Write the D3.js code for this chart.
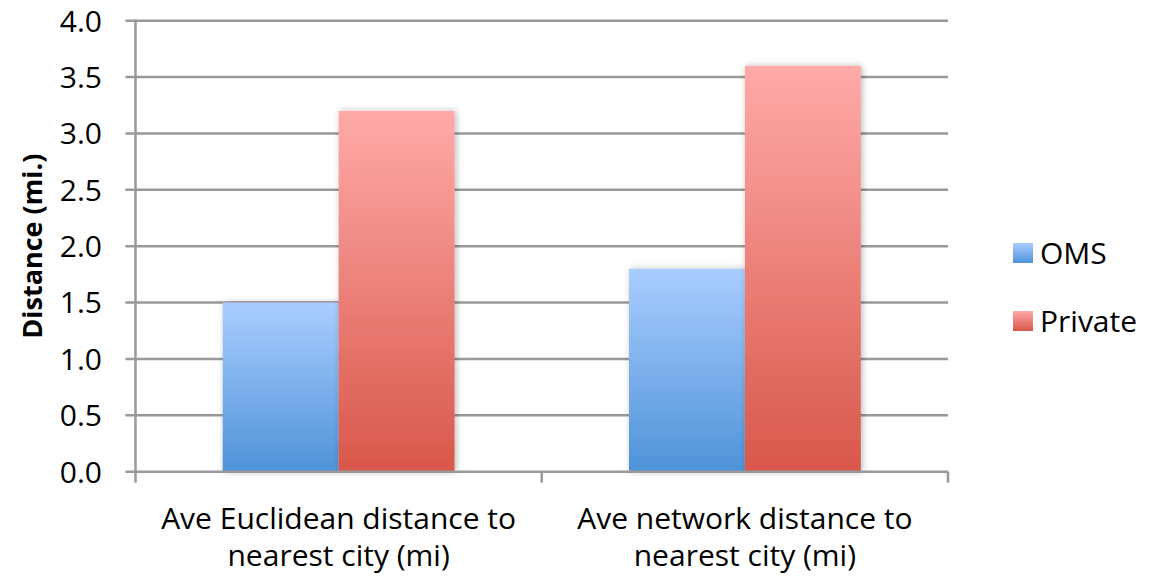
<!DOCTYPE html>
<html>
<head>
<meta charset="utf-8">
<script src="https://cdn.jsdelivr.net/npm/d3@7"></script>
<style>
  html, body { margin: 0; padding: 0; background: #fff; }
  svg { display: block; font-family: "Open Sans", "Liberation Sans", sans-serif; }
</style>
</head>
<body>
<svg id="chart" width="1157" height="576"></svg>
<script>
const categories = [
  ["Ave Euclidean distance to", "nearest city (mi)"],
  ["Ave network distance to", "nearest city (mi)"]
];
const seriesNames = ["OMS", "Private"];
const omsValues = [1.5, 1.8];
const privateValues = [3.2, 3.6];
const yTicks = [0, 0.5, 1.0, 1.5, 2.0, 2.5, 3.0, 3.5, 4.0];
const yTitle = "Distance (mi.)";

const seriesValues = { OMS: omsValues, Private: privateValues };
const gradients = {
  OMS: ["#aacdff", "#4e93d8"],
  Private: ["#ffaaa8", "#d8574a"]
};

const svg = d3.select("#chart");
const plotL = 135.5, plotR = 948, plotT = 20.7, plotB = 471.7;

const defs = svg.append("defs");
seriesNames.forEach(s => {
  const g = defs.append("linearGradient").attr("id", "grad-" + s)
    .attr("x1", 0).attr("y1", 0).attr("x2", 0).attr("y2", 1);
  g.append("stop").attr("offset", "0%").attr("stop-color", gradients[s][0]);
  g.append("stop").attr("offset", "100%").attr("stop-color", gradients[s][1]);
});
const f = defs.append("filter").attr("id", "shadow")
  .attr("x", "-20%").attr("y", "-20%").attr("width", "140%").attr("height", "140%");
f.append("feDropShadow").attr("dx", 1.5).attr("dy", 0).attr("stdDeviation", 3)
  .attr("flood-color", "#000").attr("flood-opacity", 0.28);

const catKeys = categories.map((c, i) => i);
const x0 = d3.scaleBand().domain(catKeys).range([plotL, plotR]).paddingInner(0).paddingOuter(0);
const x1 = d3.scaleBand().domain(seriesNames).range([0, x0.bandwidth()]).paddingInner(0).paddingOuter(0.752);
const y = d3.scaleLinear().domain([0, 4]).range([plotB, plotT]);

// gridlines
svg.append("g").selectAll("line").data(yTicks.filter(t => t > 0)).join("line")
  .attr("x1", plotL - 10).attr("x2", plotR)
  .attr("y1", d => y(d)).attr("y2", d => y(d))
  .attr("stroke", "#999").attr("stroke-width", 2.5);

// bars
const rows = [];
catKeys.forEach(i => seriesNames.forEach(s => rows.push({ cat: i, s, v: seriesValues[s][i] })));
svg.append("g").selectAll("rect").data(rows).join("rect")
  .attr("x", d => x0(d.cat) + x1(d.s))
  .attr("width", x1.bandwidth())
  .attr("y", d => y(d.v))
  .attr("height", d => y(0) - y(d.v))
  .attr("fill", d => "url(#grad-" + d.s + ")")
  .attr("filter", "url(#shadow)");

// y axis line
svg.append("line").attr("x1", plotL).attr("x2", plotL).attr("y1", plotT - 1).attr("y2", plotB + 11)
  .attr("stroke", "#999").attr("stroke-width", 2.5);
// x axis line
svg.append("line").attr("x1", plotL - 10).attr("x2", plotR).attr("y1", plotB).attr("y2", plotB)
  .attr("stroke", "#999").attr("stroke-width", 2.5);
// x ticks at category boundaries
const bounds = catKeys.map(i => x0(i)).concat([x0(catKeys[catKeys.length - 1]) + x0.bandwidth()]);
svg.append("g").selectAll("line").data(bounds.slice(1)).join("line")
  .attr("x1", d => d).attr("x2", d => d).attr("y1", plotB).attr("y2", plotB + 11)
  .attr("stroke", "#999").attr("stroke-width", 2.5);

// y tick labels
svg.append("g").selectAll("text").data(yTicks).join("text")
  .attr("x", 102).attr("y", d => y(d)).attr("dy", "0.36em")
  .attr("text-anchor", "end").attr("font-size", 30).attr("fill", "#000")
  .text(d => d3.format(".1f")(d));

// category labels
const cl = svg.append("g").selectAll("text").data(catKeys).join("text")
  .attr("x", d => x0(d) + x0.bandwidth() / 2)
  .attr("text-anchor", "middle").attr("font-size", 30).attr("fill", "#000");
cl.each(function(d) {
  const t = d3.select(this);
  categories[d].forEach((line, k) => {
    t.append("tspan").attr("x", x0(d) + x0.bandwidth() / 2).attr("y", 529 + k * 37).text(line);
  });
});

// y title
svg.append("text").attr("transform", `translate(42, ${(plotT + plotB) / 2}) rotate(-90)`)
  .attr("text-anchor", "middle").attr("font-size", 27).attr("font-weight", "bold")
  .text(yTitle);

// legend
const lg = svg.append("g").selectAll("g").data(seriesNames).join("g")
  .attr("transform", (d, i) => `translate(1013, ${243 + i * 68})`);
lg.append("rect").attr("width", 20).attr("height", 20)
  .attr("fill", d => "url(#grad-" + d + ")");
lg.append("text").attr("x", 27).attr("y", 10).attr("dy", "0.36em")
  .attr("font-size", 30).text(d => d);
</script>
</body>
</html>
